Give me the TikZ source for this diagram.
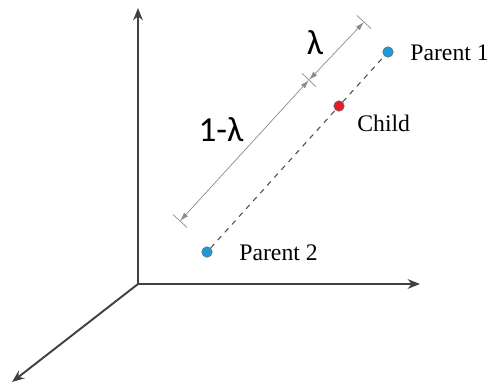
\documentclass[tikz,border=0pt]{standalone}
\usepackage{fontspec}
\setmainfont{Liberation Serif}
\newfontfamily\lamfont{Carlito}
\usetikzlibrary{calc,arrows.meta}

\definecolor{axisgray}{HTML}{404040}
\definecolor{dimgray}{HTML}{8C8C8C}
\definecolor{dotblue}{HTML}{1E9BD7}
\definecolor{dotred}{HTML}{E41E26}

\begin{document}
\begin{tikzpicture}[
        x=0.02cm, y=-0.02cm,
        axis/.style={-{Stealth[length=7pt,width=5.5pt]}, line width=1.1pt, axisgray},
        dot/.style={circle, draw=black!60, line width=0.3pt, inner sep=0pt, minimum size=6pt},
        link/.style={dashed, black!70, line width=0.6pt},
        dim/.style={{Latex[length=5pt,width=3pt]}-{Latex[length=5pt,width=3pt]}, dimgray, line width=0.4pt},
        tick/.style={dimgray, line width=0.4pt},
        lbl/.style={font=\fontsize{13.5}{15}\selectfont, anchor=west, inner sep=0pt},
        sym/.style={font=\lamfont\fontsize{20}{22}\selectfont, inner sep=0pt}
    ]
        \useasboundingbox (0,0) rectangle (489,390);

        % === Axes ===
        \coordinate (O) at (138,284);
        \coordinate (Zend) at (138,8);
        \coordinate (Xend) at (420,284);
        \coordinate (Yend) at (12,382);
        \draw[axis] (O) -- (Zend);
        \draw[axis] (O) -- (Xend);
        \draw[axis] (O) -- (Yend);

        % === Parents and child ===
        \node[dot, fill=dotblue] (P1) at (388,52) {};
        \node[dot, fill=dotred] (C) at (339,106) {};
        \node[dot, fill=dotblue] (P2) at (207,252) {};
        \draw[link] (P2) -- (C) -- (P1);

        \node[lbl] (P1lbl) at (410,53) {Parent 1};
        \node[lbl] (Clbl) at (357,123) {Child};
        \node[lbl] (P2lbl) at (239,253) {Parent 2};

        % === Dimension line ===
        \coordinate (Dlo) at (180,221);
        \coordinate (Dmid) at (309,80);
        \coordinate (Dhi) at (364,22);
        \draw[dim] (Dlo) -- (Dmid);
        \draw[dim] (Dmid) -- (Dhi);
        \foreach \p in {Dlo,Dmid}
            \draw[tick] ($(\p)!5.5pt!90:(Dhi)$) -- ($(\p)!5.5pt!-90:(Dhi)$);
        \draw[tick] ($(Dhi)!5.5pt!90:(Dlo)$) -- ($(Dhi)!5.5pt!-90:(Dlo)$);

        \node[sym] (lam) at (315,43) {λ};
        \node[sym] (onelam) at (221,130) {1-λ};
\end{tikzpicture}
\end{document}
